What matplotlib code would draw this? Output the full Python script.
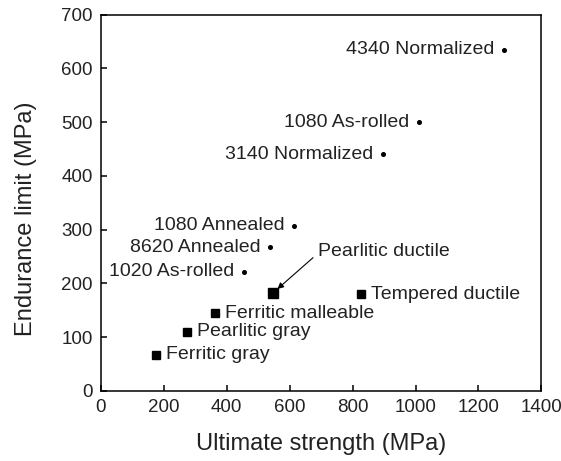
import matplotlib.pyplot as plt

plt.rcParams['font.family'] = ['Liberation Sans', 'DejaVu Sans']

# Steels (dots), label to the left
steel_names = ['4340 Normalized', '1080 As-rolled', '3140 Normalized',
               '1080 Annealed', '8620 Annealed', '1020 As-rolled']
steel_uts = [1280, 1010, 895, 615, 538, 455]
steel_end = [635, 500, 440, 307, 267, 222]

# Cast irons (squares), label to the right
iron_names = ['Tempered ductile', 'Ferritic malleable', 'Pearlitic gray', 'Ferritic gray']
iron_uts = [828, 362, 273, 175]
iron_end = [180, 145, 110, 67]

# Pearlitic ductile, labelled with an arrow
pd_name = 'Pearlitic ductile'
pd_uts, pd_end = 546, 182

fig = plt.figure(figsize=(5.61, 4.61), dpi=100)
ax = fig.add_axes([0.18, 0.152, 0.785, 0.816])

ax.plot(steel_uts, steel_end, 'o', color='black', markersize=2.6, linestyle='none')
for name, x, y in zip(steel_names, steel_uts, steel_end):
    ax.annotate(name, (x, y), xytext=(-7, 0), textcoords='offset points',
                ha='right', va='center', fontsize=14, color='#222222')

ax.plot(iron_uts, iron_end, 's', color='black', markersize=5.8, linestyle='none')
for name, x, y in zip(iron_names, iron_uts, iron_end):
    ax.annotate(name, (x, y), xytext=(7, 0), textcoords='offset points',
                ha='left', va='center', fontsize=14, color='#222222')

ax.plot([pd_uts], [pd_end], 's', color='black', markersize=6.5)
ax.annotate(pd_name, (pd_uts, pd_end), xytext=(32.5, 30),
            textcoords='offset points', ha='left', va='center', fontsize=14,
            color='#222222')
ax.annotate('', (pd_uts, pd_end), xytext=(29, 25.5), textcoords='offset points',
            arrowprops=dict(arrowstyle='-|>', color='black', lw=0.8,
                            shrinkA=0, shrinkB=4.5, mutation_scale=9))

ax.set_xlim(0, 1400)
ax.set_ylim(0, 700)
ax.set_xticks(range(0, 1401, 200))
ax.set_yticks(range(0, 701, 100))
ax.tick_params(direction='in', length=4, width=1.1, labelsize=13.5, pad=6,
               labelcolor='#222222')
for s in ax.spines.values():
    s.set_linewidth(1.1)

ax.set_xlabel('Ultimate strength (MPa)', fontsize=17, labelpad=12, color='#222222')
ax.set_ylabel('Endurance limit (MPa)', fontsize=17, color='#222222')
ax.yaxis.set_label_coords(-0.145, 0.459)

fig.savefig('out.png', dpi=100)
